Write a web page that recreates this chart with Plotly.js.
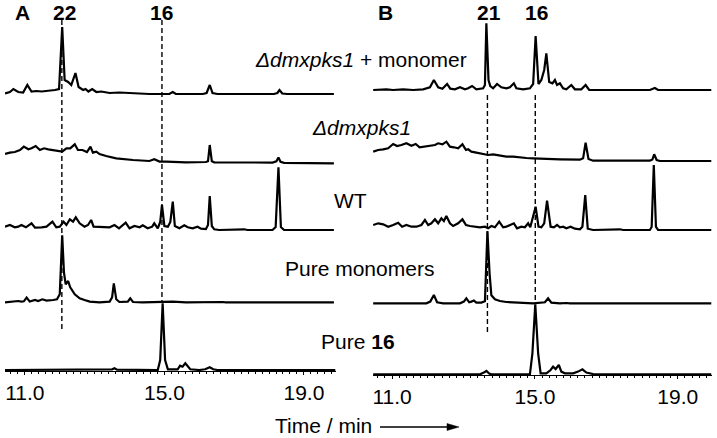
<!DOCTYPE html>
<html><head><meta charset="utf-8">
<script src="https://cdn.plot.ly/plotly-3.0.1.min.js"></script>
<style>html,body{margin:0;padding:0;background:#fff}#chart{width:717px;height:438px}</style>
</head><body><div id="chart"></div>
<script>
// ---------- DATA (retention time in min, signal height in arbitrary units) ----------
// Panel A
const A1_t = [10.43,10.57,10.67,10.81,10.95,11.07,11.19,11.33,11.48,11.67,11.86,11.98,12.07,12.14,12.24,12.33,12.45,12.54,12.67,12.74,12.82,12.93,13.05,13.19,13.43,13.71,14.1,14.57,15.14,15.24,15.33,16.1,16.21,16.3,16.38,16.52,18.14,18.24,18.3,18.38,18.52,19.86];
const A1_h = [0.5,2,5,2,1.5,9,2.5,3,2.5,3,4,5,67,14,12,9,21,7,4,5,2.5,5,2,2.5,1,1.5,0.5,0,0,2,0,0,1,9,1,0,0,1,4,0.5,0,0];

const A2_t = [10.43,10.57,10.71,10.86,10.97,11.1,11.19,11.31,11.43,11.55,11.67,11.81,11.95,12.07,12.19,12.3,12.43,12.52,12.65,12.78,12.88,12.95,13.05,13.14,13.33,13.62,14.1,14.57,14.71,14.86,15.05,15.62,16.19,16.25,16.3,16.36,16.43,16.95,18.1,18.21,18.27,18.33,18.43,19.86];
const A2_h = [9.3,10.7,11.3,13.3,16.7,14,15,17.3,13.3,15,14,13.3,12.3,11.7,15,15,19,13.3,13.3,11.3,16.7,10.7,11.7,9.3,7.3,5,3.3,2.3,4,1.7,1.7,1,1.3,2,18.3,2,1,0.7,0.7,2,5.7,1.5,0.5,0];

const A3_t = [10.43,10.57,10.71,10.81,10.9,11.03,11.19,11.29,11.48,11.62,11.79,11.9,12.0,12.11,12.19,12.29,12.38,12.46,12.57,12.71,12.81,12.9,12.97,13.1,13.24,13.43,13.57,13.7,13.89,14.0,14.14,14.29,14.38,14.52,14.65,14.71,14.81,14.88,14.93,15.0,15.1,15.17,15.24,15.3,15.43,15.57,15.67,15.81,15.95,16.05,16.19,16.25,16.3,16.36,16.43,16.57,17.29,17.38,18.1,18.19,18.27,18.34,18.43,19.86];
const A3_h = [3.3,5,2.7,3.3,5,2.7,6.7,2.3,2.7,3.3,8.3,2.7,3.3,8.3,5,10.7,8.3,12.7,6.7,3.3,5,10,3.3,3.3,2.7,2.7,5,1.7,7.3,1.7,4,2.7,4.7,1.7,3.3,6.7,1.7,8,25,4,3.3,8,28.3,4,1.7,4.7,2.7,1.7,3.3,1.3,1,5,34,4,0.7,0,0.7,0,0,3,62.7,3,0,0];

const A4_t = [10.43,10.57,10.67,10.81,10.9,10.97,11.05,11.14,11.29,11.38,11.5,11.62,11.81,11.92,12.0,12.07,12.12,12.17,12.24,12.3,12.43,12.57,12.71,12.86,13.14,13.43,13.5,13.55,13.62,13.71,13.95,14.02,14.1,14.38,15.24,15.62,16.67,16.76,19.86];
const A4_h = [0,0.3,0.7,1.3,0.7,1,4.7,0.7,2.3,1.3,3,1.7,2.3,3,8,67,30,18,21.3,15,8,4,2.3,0.7,0,0.7,5,19,3,0.3,0.7,4,0.3,0,0.7,0,0.3,0,0];

const A5_t = [10.43,13.43,13.5,13.57,13.64,14.81,14.88,14.95,15.02,15.1,15.38,15.45,15.52,15.6,15.67,15.74,16.0,16.17,16.3,16.4,16.52,19.9];
const A5_h = [0,0,0.7,1.7,0.3,0,10,66.7,10,0.7,0.7,4.3,3.3,6.7,3.3,0.7,0,0.7,2.7,0.7,0,0];

// Panel B
const B1_t = [10.47,10.84,11.03,11.31,11.59,11.87,12.06,12.17,12.29,12.41,12.54,12.63,12.76,12.9,13.04,13.13,13.24,13.36,13.55,13.6,13.64,13.7,13.75,13.83,13.94,14.06,14.2,14.3,14.41,14.48,14.67,14.86,14.95,15.02,15.1,15.18,15.26,15.32,15.4,15.49,15.56,15.62,15.7,15.79,15.88,16.02,16.12,16.3,16.42,16.52,16.63,18.22,18.36,18.45,19.94];
const B1_h = [0,0.7,0,0.7,0,0.7,2.7,10,2.7,1.3,6,1.3,0.7,2.7,0.7,1.7,4,0.7,1.7,5,66.7,10,4,1.7,6,2.7,1.7,2.7,6.7,1.7,0.7,1.7,6,54,6,10,20,36.7,8,6.7,10,5,6.7,1.7,0.7,5,0.7,0.7,5,0,0,0,2,0,0];

const B2_t = [10.47,10.61,10.75,10.89,11.03,11.14,11.26,11.4,11.54,11.66,11.77,11.92,12.06,12.2,12.29,12.41,12.52,12.62,12.73,12.85,12.97,13.07,13.13,13.22,13.36,13.55,13.69,13.83,14.02,14.2,14.39,14.58,14.76,14.95,15.14,15.32,15.7,16.26,16.35,16.42,16.5,16.63,17.38,18.22,18.29,18.34,18.41,18.5,19.94];
const B2_h = [9.3,11,11.7,12.7,17,15,16,17.7,15.3,17,13.7,14.3,15.3,16,17.7,16.7,19.3,14.3,13.7,12.7,16.7,11,11.7,9.3,8.3,7,6,6.7,5.7,4.3,4.3,3.3,3,2.7,2.3,2,1.7,1.3,2.7,18.3,2,0.3,0.3,0.3,1.5,6.7,1,0,0];

const B3_t = [10.47,10.61,10.75,10.89,11.03,11.17,11.28,11.4,11.54,11.68,11.82,11.92,12.01,12.1,12.2,12.29,12.38,12.45,12.52,12.62,12.71,12.85,12.97,13.07,13.18,13.32,13.46,13.6,13.69,13.78,13.88,14.0,14.11,14.2,14.3,14.41,14.5,14.62,14.72,14.81,14.87,14.95,15.02,15.1,15.18,15.26,15.34,15.44,15.53,15.62,15.7,15.79,15.88,16.0,16.12,16.26,16.33,16.41,16.48,16.63,17.38,17.47,18.22,18.27,18.33,18.39,18.45,19.94];
const B3_h = [5,6.7,5.7,3.3,5,7.3,3.3,5,3.3,3.3,5,10,5,6.7,10.7,6.7,11.7,9,14,6.7,4,6.7,10.7,5,4,3.3,2.7,3.3,1.7,4,2.7,8.3,2.7,3.3,5,6.7,1.7,3.3,2.7,6.7,2.7,13,23.3,3.3,2.7,6.7,29.3,3.3,2.7,5,2.7,3.3,1.7,3.3,1.3,0.7,3.3,35,1.3,0,0.7,0,0,3,65,3,0,0];

const B4_t = [10.47,11.96,12.07,12.17,12.26,12.43,12.9,13.01,13.08,13.16,13.22,13.29,13.36,13.5,13.6,13.67,13.73,13.78,13.88,14.02,14.2,14.48,14.95,15.28,15.37,15.46,15.7,15.88,15.98,19.94];
const B4_h = [0,0,1.7,8.3,1,0,0,1.7,5,1,1.7,2.7,0.7,0.7,2,72,30,8,4,2.3,1.3,0.7,0,1,5,0.7,0,0.3,0,0];

const B5_t = [10.47,13.46,13.57,13.64,13.72,13.78,14.86,14.93,15.01,15.09,15.16,15.32,15.44,15.51,15.58,15.67,15.74,15.84,16.07,16.21,16.33,16.44,16.63,19.94];
const B5_h = [0,0,1.7,3.3,0.7,0,0,21,70,21,1,1,4.3,7.7,5.3,9.3,2.7,1,1,2.7,5,1.7,0.3,0];

// Labels
const sampleLabels = ['<i>Δdmxpks1</i> + monomer','<i>Δdmxpks1</i>','WT','Pure monomers','Pure <b>16</b>'];
const panelLabels = ['A','B'];
const peakLabelsA = ['22','16'];
const peakTimesA = [12.06,14.93];
const peakLabelsB = ['21','16'];
const peakTimesB = [13.67,15.01];
const tickVals = [11,15,19];
const tickText = ['11.0','15.0','19.0'];
const xTitle = 'Time / min';

// ---------- LAYOUT ----------
const W = 717, H = 438;
const px = x => x / W, py = y => 1 - y / H;
const botA = 371, botB = 375;
const baseA = [94, 163.3, 230, 302.3, 370];
const baseB = [90, 161, 230, 303.3, 374.3];

const seriesA = [[A1_t,A1_h],[A2_t,A2_h],[A3_t,A3_h],[A4_t,A4_h],[A5_t,A5_h]];
const seriesB = [[B1_t,B1_h],[B2_t,B2_h],[B3_t,B3_h],[B4_t,B4_h],[B5_t,B5_h]];

const traces = [];
seriesA.forEach((s,i) => traces.push({x:s[0], y:s[1].map(v => v + (botA - baseA[i])), type:'scatter', mode:'lines',
  line:{color:'#000', width:2.2}, xaxis:'x', yaxis:'y', hoverinfo:'skip', showlegend:false}));
seriesB.forEach((s,i) => traces.push({x:s[0], y:s[1].map(v => v + (botB - baseB[i])), type:'scatter', mode:'lines',
  line:{color:'#000', width:2.2}, xaxis:'x2', yaxis:'y2', hoverinfo:'skip', showlegend:false}));

const font = 'Arial, "Liberation Sans", sans-serif';
const xax = (dom, rng) => ({domain:dom, range:rng, showgrid:false, zeroline:false, showline:true, linecolor:'#000', linewidth:1.2,
  ticks:'outside', ticklen:3, tickwidth:1, tickcolor:'#000', tickmode:'array', tickvals:tickVals, ticktext:tickText,
  tickfont:{family:font, size:21, color:'#000'}, ticklabelstandoff:0,
  minor:{tickmode:'linear', tick0:11, dtick:0.2, ticks:'outside', ticklen:2, tickcolor:'#000', tickwidth:1, showgrid:false}});

const layout = {
  width:W, height:H, margin:{l:0,r:0,t:0,b:0}, paper_bgcolor:'#fff', plot_bgcolor:'rgba(0,0,0,0)',
  xaxis: Object.assign(xax([5/W, 336/W], [10.43, 19.92]), {anchor:'y'}),
  yaxis: {domain:[(H-botA)/H, 1], range:[0, botA], visible:false, fixedrange:true},
  xaxis2: Object.assign(xax([373/W, 712/W], [10.465, 19.96]), {anchor:'y2'}),
  yaxis2: {domain:[(H-botB)/H, 1], range:[0, botB], visible:false, fixedrange:true},
  shapes: [], annotations: []
};

const dash = {color:'#000', width:1.4, dash:'5px,3px'};
layout.shapes.push({type:'line', xref:'x', yref:'paper', x0:peakTimesA[0], x1:peakTimesA[0], y0:py(20), y1:py(330), line:dash});
layout.shapes.push({type:'line', xref:'x', yref:'paper', x0:peakTimesA[1], x1:peakTimesA[1], y0:py(20), y1:py(301), line:dash});
layout.shapes.push({type:'line', xref:'x2', yref:'paper', x0:peakTimesB[0], x1:peakTimesB[0], y0:py(95), y1:py(333), line:dash});
layout.shapes.push({type:'line', xref:'x2', yref:'paper', x0:peakTimesB[1], x1:peakTimesB[1], y0:py(95), y1:py(303), line:dash});

// arrow
layout.shapes.push({type:'line', xref:'paper', yref:'paper', x0:px(380), x1:px(450), y0:py(427), y1:py(427), line:{color:'#000', width:1.3}});
layout.shapes.push({type:'path', xref:'paper', yref:'paper',
  path:`M ${px(447)} ${py(423.5)} L ${px(459)} ${py(427)} L ${px(447)} ${py(430.5)} Z`, fillcolor:'#000', line:{color:'#000', width:0.5}});

const ann = (text, x, y, bold) => layout.annotations.push({text: bold ? '<b>'+text+'</b>' : text, xref:'paper', yref:'paper',
  x:px(x), y:py(y), xanchor:'center', yanchor:'middle', showarrow:false, font:{family:font, size:21, color:'#000'}});

ann(panelLabels[0], 22, 12, true);
ann(peakLabelsA[0], 64, 12, true);
ann(peakLabelsA[1], 161, 12, true);
ann(panelLabels[1], 385, 12, true);
ann(peakLabelsB[0], 489, 12, true);
ann(peakLabelsB[1], 536, 12, true);

const labelX = [361, 361, 350, 359.5, 357.5];
const labelY = [59, 127, 200, 268, 341];
sampleLabels.forEach((t,i) => ann(t, labelX[i], labelY[i], false));
ann(xTitle, 323, 425, false);

Plotly.newPlot('chart', traces, layout, {staticPlot:true, displayModeBar:false});
</script></body></html>
